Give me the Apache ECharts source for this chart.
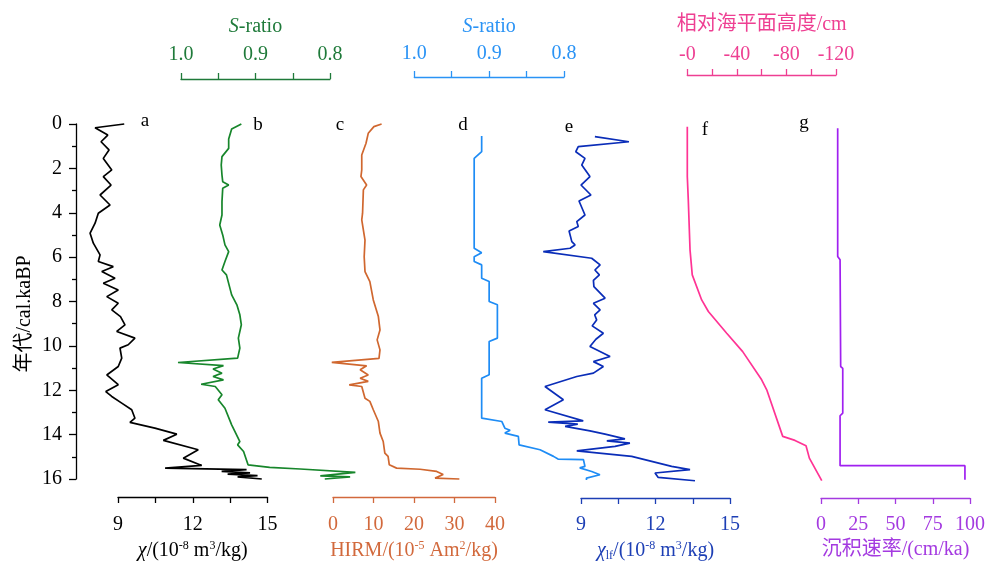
<!DOCTYPE html>
<html>
<head>
<meta charset="utf-8">
<script src="https://cdn.jsdelivr.net/npm/echarts@6.0.0/dist/echarts.min.js"></script>
<style>html,body{margin:0;padding:0;background:#fff}#c{width:986px;height:561px}</style>
</head>
<body>
<div id="c"></div>
<script>
// ---- data (age in cal. ka BP) ----
const chiAge = [0, 0.17, 0.5, 0.8, 1.17, 1.55, 2.07, 2.37, 2.75, 3.2, 3.65, 4.02, 4.47, 4.92, 5.37, 5.9, 6.2, 6.43, 6.65, 6.95, 7.18, 7.48, 7.78, 8.08, 8.38, 8.68, 9.05, 9.35, 9.65, 9.95, 10.1, 10.55, 10.93, 11.31, 11.75, 12.06, 12.28, 12.58, 12.88, 13.26, 13.45, 13.71, 13.98, 14.26, 14.68, 15.06, 15.39, 15.51, 15.58, 15.66, 15.72, 15.78, 15.85, 15.9, 16.0];
const chiVal = [9.25, 8.08, 8.59, 8.32, 8.64, 8.41, 8.75, 8.41, 8.72, 8.28, 8.68, 8.21, 8.08, 7.88, 8.01, 8.28, 8.21, 8.81, 8.35, 8.88, 8.41, 9.01, 8.55, 9.01, 8.75, 9.1, 9.28, 8.95, 9.68, 9.41, 9.08, 9.15, 9.01, 8.55, 9.01, 8.51, 8.75, 9.15, 9.55, 9.68, 9.48, 10.48, 11.36, 10.82, 12.22, 11.62, 12.36, 10.89, 14.16, 13.16, 14.3, 13.4, 14.6, 13.8, 14.77];

const sr1Age = [0, 0.23, 0.68, 1.1, 1.47, 1.85, 2.3, 2.6, 2.75, 2.9, 3.5, 4.1, 4.55, 5.0, 5.45, 5.75, 6.2, 6.58, 6.8, 7.7, 8.15, 8.6, 9.05, 9.65, 10.1, 10.55, 10.75, 10.89, 11.04, 11.23, 11.38, 11.53, 11.73, 11.83, 12.2, 12.43, 12.81, 13.56, 14.31, 14.46, 14.76, 15.36, 15.48, 15.55, 15.7, 15.86, 15.9, 16.0];
const sr1Val = [0.919, 0.932, 0.936, 0.936, 0.945, 0.946, 0.945, 0.944, 0.936, 0.944, 0.945, 0.945, 0.948, 0.944, 0.941, 0.936, 0.941, 0.945, 0.939, 0.932, 0.925, 0.921, 0.919, 0.923, 0.921, 0.924, 1.004, 0.943, 0.957, 0.945, 0.957, 0.943, 0.973, 0.954, 0.945, 0.950, 0.941, 0.932, 0.921, 0.924, 0.916, 0.910, 0.881, 0.840, 0.766, 0.813, 0.773, 0.807];

const hirmAge = [0, 0.12, 0.42, 0.87, 1.4, 2.07, 2.37, 2.75, 2.97, 4.02, 4.32, 5.23, 5.98, 6.65, 7.1, 7.93, 8.68, 9.28, 9.73, 10.18, 10.56, 10.74, 10.9, 11.08, 11.31, 11.46, 11.6, 11.76, 11.83, 12.36, 12.5, 12.88, 13.41, 13.93, 14.31, 14.83, 14.98, 15.36, 15.51, 15.56, 15.66, 15.8, 15.96, 16.0];
const hirmVal = [12.0, 10.1, 8.7, 8.15, 7.1, 7.1, 6.9, 8.3, 7.5, 7.3, 7.1, 7.9, 7.7, 7.9, 9.1, 9.95, 11.2, 11.6, 10.9, 11.6, 11.36, -0.3, 8.3, 6.7, 8.7, 6.7, 8.7, 4.0, 7.1, 7.9, 9.1, 9.95, 11.2, 11.6, 12.4, 12.8, 13.6, 13.9, 15.7, 21.5, 25.6, 27.2, 25.2, 31.2];

const sr2Age = [0.54, 1.25, 1.55, 5.6, 5.8, 5.98, 6.2, 6.35, 6.95, 7.1, 8.0, 8.15, 9.65, 9.8, 11.3, 11.46, 13.26, 13.41, 13.71, 13.8, 13.93, 14.08, 14.46, 14.68, 14.98, 15.1, 15.13, 15.43, 15.5, 15.66, 15.81, 15.96, 16.05];
const sr2Val = [0.910, 0.910, 0.920, 0.920, 0.910, 0.920, 0.920, 0.910, 0.910, 0.900, 0.900, 0.889, 0.889, 0.900, 0.900, 0.910, 0.910, 0.883, 0.879, 0.872, 0.879, 0.861, 0.860, 0.832, 0.814, 0.808, 0.774, 0.772, 0.779, 0.763, 0.752, 0.770, 0.770];

const lfAge = [0.57, 0.8, 1.02, 1.25, 1.55, 1.85, 2.37, 2.75, 3.2, 3.47, 4.1, 4.4, 4.62, 4.82, 5.3, 5.45, 5.6, 5.75, 6.05, 6.35, 6.58, 6.8, 7.05, 7.33, 7.85, 8.08, 8.38, 8.6, 8.83, 9.1, 9.43, 9.7, 10.03, 10.48, 10.71, 10.93, 11.23, 11.38, 11.83, 12.43, 12.88, 13.38, 13.44, 13.53, 13.63, 13.83, 13.98, 14.19, 14.28, 14.38, 14.53, 14.73, 14.98, 15.43, 15.58, 15.73, 15.93, 16.08];
const lfVal = [9.56, 10.93, 8.89, 8.79, 9.16, 9.03, 9.36, 9.0, 9.4, 8.92, 9.16, 8.83, 8.89, 8.52, 8.63, 8.76, 8.56, 7.48, 9.43, 9.77, 9.56, 9.74, 9.5, 9.52, 9.97, 9.5, 9.77, 9.55, 9.63, 9.45, 9.9, 9.6, 9.36, 10.17, 9.5, 9.9, 9.5, 8.83, 7.55, 8.29, 7.55, 9.09, 7.68, 8.87, 8.36, 9.36, 9.97, 10.77, 10.04, 10.97, 10.37, 8.83, 11.04, 12.65, 13.39, 11.98, 12.11, 13.59];

const seaAge = [0.12, 2.37, 3.42, 5.67, 6.8, 7.93, 8.45, 9.43, 10.26, 11.53, 11.98, 14.08, 14.26, 14.5, 15.06, 16.07];
const seaVal = [0, 0, -0.8, -2.2, -4.0, -11.6, -17, -31.8, -44.7, -60, -64.1, -77, -86.9, -95.8, -98.5, -108.5];

const rateAge = [0.19, 5.97, 6.12, 10.93, 11.01, 13.03, 13.15, 15.4, 15.4, 16.03];
const rateVal = [11.2, 11.2, 12.8, 13.2, 14.6, 14.6, 12.8, 12.8, 96.6, 96.6];

const ageTicks = [0, 16, 2];
const panelLetters = ['a', 'b', 'c', 'd', 'e', 'f', 'g'];
const ageTitle = '年代/cal.kaBP';

// ---- styling ----
const FONT = '"Liberation Serif", "Times New Roman", "Noto Sans CJK SC", serif';
const FS = 20;
const TOP = 124, H = 355;
const AGE_EXT = [-1, 17];

function rich(color) {
  return {
    i: { color, fontFamily: FONT, fontSize: FS, fontStyle: 'italic' },
    sup: { color, fontFamily: FONT, fontSize: 12, verticalAlign: 'top', lineHeight: 22 },
    sub: { color, fontFamily: FONT, fontSize: 12, verticalAlign: 'bottom', lineHeight: 22 }
  };
}
const srFmt = v => { const r = Math.round(v * 100); return r % 10 === 0 ? (r / 100).toFixed(1) : ''; };
const chiFmt = v => (Math.abs(v % 3) < 1e-6 ? String(v) : '');

const panels = [
  { left: 118, width: 149.5, min: 9, max: 15, interval: 1.5, ext: [6, 18], pos: 'bottom', offset: 18, margin: 18, gap: 40, color: '#000000', line: '#000000',
    name: '{i|χ}/(10{sup|-8} m{sup|3}/kg)', fmt: chiFmt, age: chiAge, val: chiVal },
  { left: 181, width: 149, min: 0.8, max: 1.0, interval: 0.05, ext: [0.6, 1.1], inverse: true, pos: 'top', offset: 45, margin: 14, gap: 42, color: '#1f7a3a', line: '#17862b',
    name: '{i|S}-ratio', fmt: srFmt, age: sr1Age, val: sr1Val },
  { left: 333, width: 162, min: 0, max: 40, interval: 10, ext: [-10, 50], pos: 'bottom', offset: 18, margin: 18, gap: 40, color: '#d2693c', line: '#d0672f',
    name: 'HIRM/(10{sup|-5} Am{sup|2}/kg)', fmt: v => String(v), age: hirmAge, val: hirmVal },
  { left: 414.3, width: 149.7, min: 0.8, max: 1.0, interval: 0.05, ext: [0.6, 1.1], inverse: true, pos: 'top', offset: 47, margin: 13, gap: 40, color: '#2a93f5', line: '#1e8cf5',
    name: '{i|S}-ratio', fmt: srFmt, age: sr2Age, val: sr2Val },
  { left: 581, width: 149, min: 9, max: 15, interval: 1.5, ext: [6, 18], pos: 'bottom', offset: 19, margin: 17, gap: 40, color: '#1d3fb5', line: '#0a2db8',
    name: '{i|χ}{sub|lf}/(10{sup|-8} m{sup|3}/kg)', fmt: chiFmt, age: lfAge, val: lfVal },
  { left: 687.3, width: 148.7, min: -120, max: 0, interval: 20, ext: [-140, 20], inverse: true, pos: 'top', offset: 49, margin: 10, gap: 40, color: '#ee3f92', line: '#ff3394',
    name: '相对海平面高度/cm', fmt: v => (Math.round(v) % 40 === 0 ? (v === 0 ? '-0' : String(v)) : ''), age: seaAge, val: seaVal },
  { left: 821, width: 149, min: 0, max: 100, interval: 25, ext: [-10, 110], pos: 'bottom', offset: 19, margin: 17, gap: 40, color: '#a43ae0', line: '#a020f0',
    name: '沉积速率/(cm/ka)', fmt: v => String(v), age: rateAge, val: rateVal }
];

const G = { outerBoundsMode: 'none', containLabel: false };
const grid = [Object.assign({ left: 76, top: TOP, width: 30, height: H }, G)];
const xAxis = [{ gridIndex: 0, type: 'value', show: false, min: 0, max: 1 }];
const yAxis = [{
  gridIndex: 0, type: 'value', min: ageTicks[0], max: ageTicks[1], interval: ageTicks[2], inverse: true, position: 'left',
  axisLine: { show: true, lineStyle: { color: '#000', width: 1.3 } },
  axisTick: { show: true, length: 7, lineStyle: { color: '#000', width: 1.3 } },
  minorTick: { show: true, splitNumber: 2, length: 4, lineStyle: { color: '#000', width: 1.3 } },
  splitLine: { show: false },
  axisLabel: { color: '#000', fontFamily: FONT, fontSize: FS, margin: 14 }
}];
const series = [];

const ageSpan = ageTicks[1] - ageTicks[0];
const dTop = TOP + (AGE_EXT[0] - ageTicks[0]) / ageSpan * H;
const dH = (AGE_EXT[1] - AGE_EXT[0]) / ageSpan * H;

panels.forEach((p) => {
  const ai = grid.length;
  grid.push(Object.assign({ left: p.left, top: TOP, width: p.width, height: H }, G));
  xAxis.push({
    gridIndex: ai, type: 'value', min: p.min, max: p.max, interval: p.interval, inverse: !!p.inverse,
    position: p.pos, offset: p.offset,
    axisLine: { show: true, onZero: false, lineStyle: { color: p.color, width: 1.3 } },
    axisTick: { show: true, length: 6, lineStyle: { color: p.color, width: 1.3 } },
    splitLine: { show: false },
    axisLabel: { color: p.color, fontFamily: FONT, fontSize: FS, margin: p.margin, formatter: p.fmt, showMinLabel: true, showMaxLabel: true },
    name: p.name, nameLocation: 'middle', nameGap: p.gap,
    nameTextStyle: { color: p.color, fontFamily: FONT, fontSize: FS, rich: rich(p.color) }
  });
  yAxis.push({ gridIndex: ai, type: 'value', min: ageTicks[0], max: ageTicks[1], inverse: true, show: false });

  const span = p.max - p.min;
  const pxPer = p.width / span;
  const dw = (p.ext[1] - p.ext[0]) * pxPer;
  const dl = p.inverse ? p.left - (p.ext[1] - p.max) * pxPer : p.left - (p.min - p.ext[0]) * pxPer;
  const di = grid.length;
  grid.push(Object.assign({ left: dl, top: dTop, width: dw, height: dH }, G));
  xAxis.push({ gridIndex: di, type: 'value', min: p.ext[0], max: p.ext[1], inverse: !!p.inverse, show: false });
  yAxis.push({ gridIndex: di, type: 'value', min: AGE_EXT[0], max: AGE_EXT[1], inverse: true, show: false });
  series.push({
    type: 'line', xAxisIndex: di, yAxisIndex: di, clip: false, showSymbol: false, symbol: 'none',
    lineStyle: { color: p.line, width: 1.7 }, animation: false,
    data: p.age.map((a, i) => [p.val[i], a])
  });
});

const letterPos = [[145, 121], [258, 125], [340, 125], [463, 125], [569, 127], [705, 130], [804, 123]];
const graphic = panelLetters.map((t, i) => ({
  type: 'text', x: letterPos[i][0], y: letterPos[i][1],
  style: { text: t, fontFamily: FONT, fontSize: 19, fill: '#000', align: 'center', verticalAlign: 'middle' }
}));
graphic.push({
  type: 'text', x: 25, y: 314, rotation: Math.PI / 2,
  style: { text: ageTitle, fontFamily: FONT, fontSize: FS, fill: '#000', align: 'center', verticalAlign: 'middle' }
});

const chart = echarts.init(document.getElementById('c'), null, { renderer: 'canvas' });
chart.setOption({ animation: false, backgroundColor: '#fff', grid, xAxis, yAxis, series, graphic });
</script>
</body>
</html>
